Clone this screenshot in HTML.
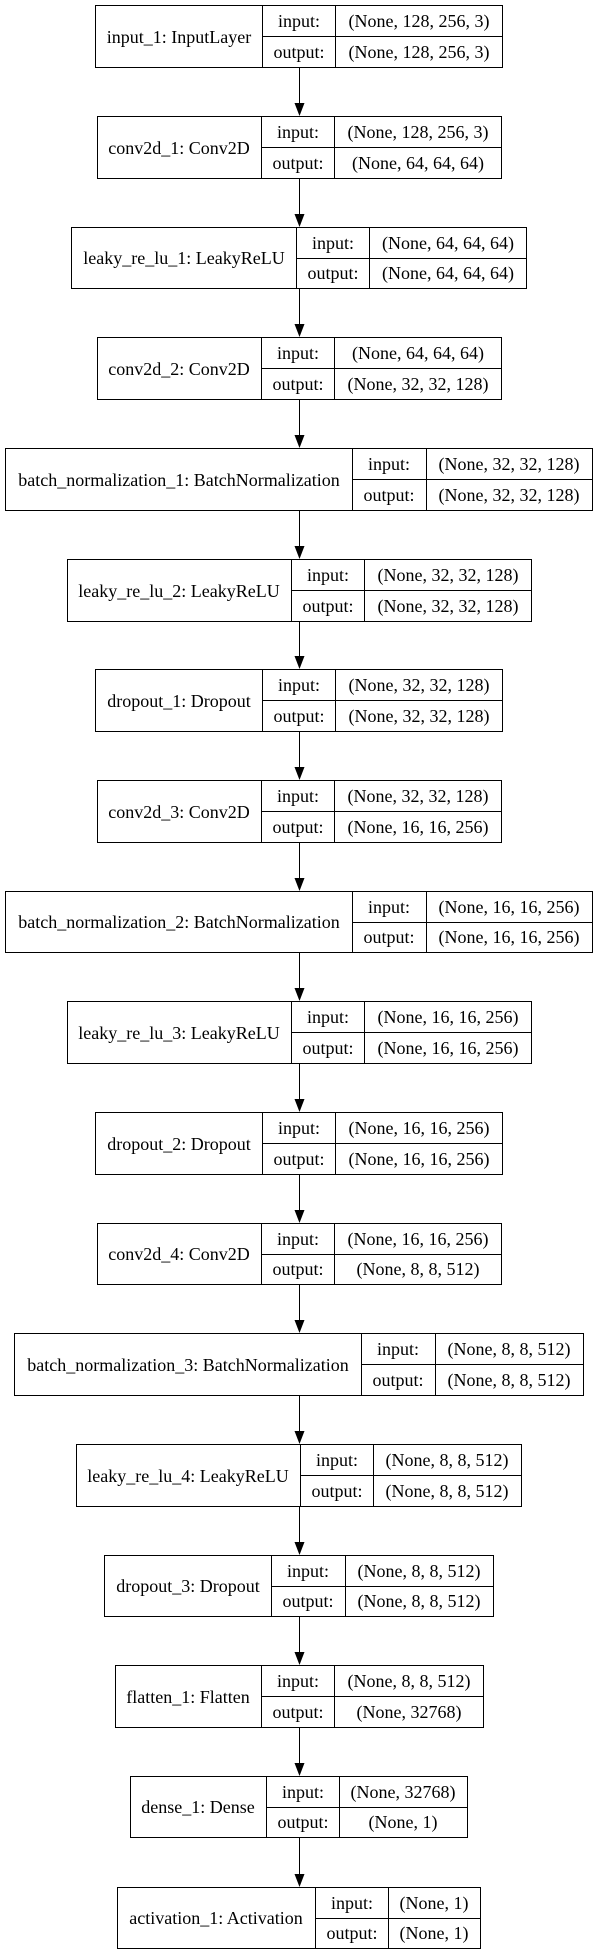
<!DOCTYPE html>
<html><head><meta charset="utf-8"><style>
html,body{margin:0;padding:0;background:#fff;}
svg{display:block;}
text{font-family:"Liberation Serif",serif;font-size:18px;fill:#000;}
</style></head><body>
<svg width="597" height="1955" viewBox="0 0 597 1955" xmlns="http://www.w3.org/2000/svg">
<g stroke="#000" stroke-width="1" fill="none" shape-rendering="crispEdges">
<rect x="95.5" y="5.5" width="407" height="62"/><line x1="262.5" y1="5.5" x2="262.5" y2="67.5"/><line x1="335.5" y1="5.5" x2="335.5" y2="67.5"/><line x1="262.5" y1="36.5" x2="502.5" y2="36.5"/>
<rect x="97.5" y="116.5" width="404" height="62"/><line x1="261.5" y1="116.5" x2="261.5" y2="178.5"/><line x1="334.5" y1="116.5" x2="334.5" y2="178.5"/><line x1="261.5" y1="147.5" x2="501.5" y2="147.5"/>
<rect x="71.5" y="227.5" width="455" height="61"/><line x1="296.5" y1="227.5" x2="296.5" y2="288.5"/><line x1="369.5" y1="227.5" x2="369.5" y2="288.5"/><line x1="296.5" y1="258.5" x2="526.5" y2="258.5"/>
<rect x="97.5" y="337.5" width="404" height="62"/><line x1="261.5" y1="337.5" x2="261.5" y2="399.5"/><line x1="334.5" y1="337.5" x2="334.5" y2="399.5"/><line x1="261.5" y1="368.5" x2="501.5" y2="368.5"/>
<rect x="5.5" y="448.5" width="587" height="62"/><line x1="352.5" y1="448.5" x2="352.5" y2="510.5"/><line x1="426.5" y1="448.5" x2="426.5" y2="510.5"/><line x1="352.5" y1="479.5" x2="592.5" y2="479.5"/>
<rect x="67.5" y="559.5" width="464" height="62"/><line x1="291.5" y1="559.5" x2="291.5" y2="621.5"/><line x1="364.5" y1="559.5" x2="364.5" y2="621.5"/><line x1="291.5" y1="590.5" x2="531.5" y2="590.5"/>
<rect x="95.5" y="669.5" width="407" height="62"/><line x1="262.5" y1="669.5" x2="262.5" y2="731.5"/><line x1="335.5" y1="669.5" x2="335.5" y2="731.5"/><line x1="262.5" y1="700.5" x2="502.5" y2="700.5"/>
<rect x="97.5" y="780.5" width="404" height="62"/><line x1="261.5" y1="780.5" x2="261.5" y2="842.5"/><line x1="334.5" y1="780.5" x2="334.5" y2="842.5"/><line x1="261.5" y1="811.5" x2="501.5" y2="811.5"/>
<rect x="5.5" y="891.5" width="587" height="61"/><line x1="352.5" y1="891.5" x2="352.5" y2="952.5"/><line x1="426.5" y1="891.5" x2="426.5" y2="952.5"/><line x1="352.5" y1="922.5" x2="592.5" y2="922.5"/>
<rect x="67.5" y="1001.5" width="464" height="62"/><line x1="291.5" y1="1001.5" x2="291.5" y2="1063.5"/><line x1="364.5" y1="1001.5" x2="364.5" y2="1063.5"/><line x1="291.5" y1="1032.5" x2="531.5" y2="1032.5"/>
<rect x="95.5" y="1112.5" width="407" height="62"/><line x1="262.5" y1="1112.5" x2="262.5" y2="1174.5"/><line x1="335.5" y1="1112.5" x2="335.5" y2="1174.5"/><line x1="262.5" y1="1143.5" x2="502.5" y2="1143.5"/>
<rect x="97.5" y="1223.5" width="404" height="61"/><line x1="261.5" y1="1223.5" x2="261.5" y2="1284.5"/><line x1="334.5" y1="1223.5" x2="334.5" y2="1284.5"/><line x1="261.5" y1="1254.5" x2="501.5" y2="1254.5"/>
<rect x="14.5" y="1333.5" width="569" height="62"/><line x1="361.5" y1="1333.5" x2="361.5" y2="1395.5"/><line x1="435.5" y1="1333.5" x2="435.5" y2="1395.5"/><line x1="361.5" y1="1364.5" x2="583.5" y2="1364.5"/>
<rect x="76.5" y="1444.5" width="445" height="62"/><line x1="300.5" y1="1444.5" x2="300.5" y2="1506.5"/><line x1="373.5" y1="1444.5" x2="373.5" y2="1506.5"/><line x1="300.5" y1="1475.5" x2="521.5" y2="1475.5"/>
<rect x="104.5" y="1555.5" width="389" height="61"/><line x1="271.5" y1="1555.5" x2="271.5" y2="1616.5"/><line x1="345.5" y1="1555.5" x2="345.5" y2="1616.5"/><line x1="271.5" y1="1586.5" x2="493.5" y2="1586.5"/>
<rect x="115.5" y="1665.5" width="368" height="62"/><line x1="261.5" y1="1665.5" x2="261.5" y2="1727.5"/><line x1="334.5" y1="1665.5" x2="334.5" y2="1727.5"/><line x1="261.5" y1="1696.5" x2="483.5" y2="1696.5"/>
<rect x="130.5" y="1776.5" width="337" height="61"/><line x1="266.5" y1="1776.5" x2="266.5" y2="1837.5"/><line x1="339.5" y1="1776.5" x2="339.5" y2="1837.5"/><line x1="266.5" y1="1807.5" x2="467.5" y2="1807.5"/>
<rect x="117.5" y="1887.5" width="363" height="61"/><line x1="315.5" y1="1887.5" x2="315.5" y2="1948.5"/><line x1="388.5" y1="1887.5" x2="388.5" y2="1948.5"/><line x1="315.5" y1="1918.5" x2="480.5" y2="1918.5"/>
<line x1="299.5" y1="68" x2="299.5" y2="104"/><line x1="299.5" y1="179" x2="299.5" y2="215"/><line x1="299.5" y1="289" x2="299.5" y2="325"/><line x1="299.5" y1="400" x2="299.5" y2="436"/><line x1="299.5" y1="511" x2="299.5" y2="547"/><line x1="299.5" y1="622" x2="299.5" y2="657"/><line x1="299.5" y1="732" x2="299.5" y2="768"/><line x1="299.5" y1="843" x2="299.5" y2="879"/><line x1="299.5" y1="953" x2="299.5" y2="989"/><line x1="299.5" y1="1064" x2="299.5" y2="1100"/><line x1="299.5" y1="1175" x2="299.5" y2="1211"/><line x1="299.5" y1="1285" x2="299.5" y2="1321"/><line x1="299.5" y1="1396" x2="299.5" y2="1432"/><line x1="299.5" y1="1507" x2="299.5" y2="1543"/><line x1="299.5" y1="1617" x2="299.5" y2="1653"/><line x1="299.5" y1="1728" x2="299.5" y2="1764"/><line x1="299.5" y1="1838" x2="299.5" y2="1875"/>
</g>
<g fill="#000">
<polygon points="294.5,103 304.5,103 299.5,116"/><polygon points="294.5,214 304.5,214 299.5,227"/><polygon points="294.5,324 304.5,324 299.5,337"/><polygon points="294.5,435 304.5,435 299.5,448"/><polygon points="294.5,546 304.5,546 299.5,559"/><polygon points="294.5,656 304.5,656 299.5,669"/><polygon points="294.5,767 304.5,767 299.5,780"/><polygon points="294.5,878 304.5,878 299.5,891"/><polygon points="294.5,988 304.5,988 299.5,1001"/><polygon points="294.5,1099 304.5,1099 299.5,1112"/><polygon points="294.5,1210 304.5,1210 299.5,1223"/><polygon points="294.5,1320 304.5,1320 299.5,1333"/><polygon points="294.5,1431 304.5,1431 299.5,1444"/><polygon points="294.5,1542 304.5,1542 299.5,1555"/><polygon points="294.5,1652 304.5,1652 299.5,1665"/><polygon points="294.5,1763 304.5,1763 299.5,1776"/><polygon points="294.5,1874 304.5,1874 299.5,1887"/>
</g>
<g text-anchor="middle" transform="translate(0,1)">
<text x="179" y="42">input_1: InputLayer</text><text x="299" y="26">input:</text><text x="299" y="57">output:</text><text x="419" y="26">(None, 128, 256, 3)</text><text x="419" y="57">(None, 128, 256, 3)</text>
<text x="179" y="153">conv2d_1: Conv2D</text><text x="298" y="137">input:</text><text x="298" y="168">output:</text><text x="418" y="137">(None, 128, 256, 3)</text><text x="418" y="168">(None, 64, 64, 64)</text>
<text x="184" y="263">leaky_re_lu_1: LeakyReLU</text><text x="333" y="248">input:</text><text x="333" y="278">output:</text><text x="448" y="248">(None, 64, 64, 64)</text><text x="448" y="278">(None, 64, 64, 64)</text>
<text x="179" y="374">conv2d_2: Conv2D</text><text x="298" y="358">input:</text><text x="298" y="389">output:</text><text x="418" y="358">(None, 64, 64, 64)</text><text x="418" y="389">(None, 32, 32, 128)</text>
<text x="179" y="485">batch_normalization_1: BatchNormalization</text><text x="389" y="469">input:</text><text x="389" y="500">output:</text><text x="509" y="469">(None, 32, 32, 128)</text><text x="509" y="500">(None, 32, 32, 128)</text>
<text x="179" y="596">leaky_re_lu_2: LeakyReLU</text><text x="328" y="580">input:</text><text x="328" y="611">output:</text><text x="448" y="580">(None, 32, 32, 128)</text><text x="448" y="611">(None, 32, 32, 128)</text>
<text x="179" y="706">dropout_1: Dropout</text><text x="299" y="690">input:</text><text x="299" y="721">output:</text><text x="419" y="690">(None, 32, 32, 128)</text><text x="419" y="721">(None, 32, 32, 128)</text>
<text x="179" y="817">conv2d_3: Conv2D</text><text x="298" y="801">input:</text><text x="298" y="832">output:</text><text x="418" y="801">(None, 32, 32, 128)</text><text x="418" y="832">(None, 16, 16, 256)</text>
<text x="179" y="927">batch_normalization_2: BatchNormalization</text><text x="389" y="912">input:</text><text x="389" y="942">output:</text><text x="509" y="912">(None, 16, 16, 256)</text><text x="509" y="942">(None, 16, 16, 256)</text>
<text x="179" y="1038">leaky_re_lu_3: LeakyReLU</text><text x="328" y="1022">input:</text><text x="328" y="1053">output:</text><text x="448" y="1022">(None, 16, 16, 256)</text><text x="448" y="1053">(None, 16, 16, 256)</text>
<text x="179" y="1149">dropout_2: Dropout</text><text x="299" y="1133">input:</text><text x="299" y="1164">output:</text><text x="419" y="1133">(None, 16, 16, 256)</text><text x="419" y="1164">(None, 16, 16, 256)</text>
<text x="179" y="1259">conv2d_4: Conv2D</text><text x="298" y="1244">input:</text><text x="298" y="1274">output:</text><text x="418" y="1244">(None, 16, 16, 256)</text><text x="418" y="1274">(None, 8, 8, 512)</text>
<text x="188" y="1370">batch_normalization_3: BatchNormalization</text><text x="398" y="1354">input:</text><text x="398" y="1385">output:</text><text x="509" y="1354">(None, 8, 8, 512)</text><text x="509" y="1385">(None, 8, 8, 512)</text>
<text x="188" y="1481">leaky_re_lu_4: LeakyReLU</text><text x="337" y="1465">input:</text><text x="337" y="1496">output:</text><text x="447" y="1465">(None, 8, 8, 512)</text><text x="447" y="1496">(None, 8, 8, 512)</text>
<text x="188" y="1591">dropout_3: Dropout</text><text x="308" y="1576">input:</text><text x="308" y="1606">output:</text><text x="419" y="1576">(None, 8, 8, 512)</text><text x="419" y="1606">(None, 8, 8, 512)</text>
<text x="188" y="1702">flatten_1: Flatten</text><text x="298" y="1686">input:</text><text x="298" y="1717">output:</text><text x="409" y="1686">(None, 8, 8, 512)</text><text x="409" y="1717">(None, 32768)</text>
<text x="198" y="1812">dense_1: Dense</text><text x="303" y="1797">input:</text><text x="303" y="1827">output:</text><text x="403" y="1797">(None, 32768)</text><text x="403" y="1827">(None, 1)</text>
<text x="216" y="1923">activation_1: Activation</text><text x="352" y="1908">input:</text><text x="352" y="1938">output:</text><text x="434" y="1908">(None, 1)</text><text x="434" y="1938">(None, 1)</text>
</g>
</svg>
</body></html>
